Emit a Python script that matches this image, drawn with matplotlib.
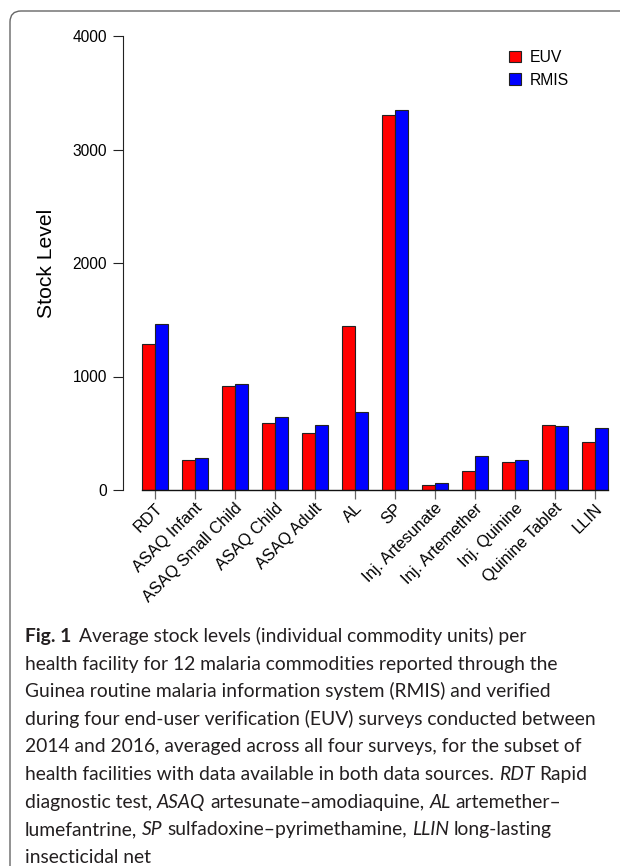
import matplotlib
matplotlib.use("Agg")
import matplotlib.pyplot as plt
from matplotlib.patches import Patch, FancyBboxPatch
from matplotlib.transforms import ScaledTranslation
import numpy as np

# data
commodities = ["RDT", "ASAQ Infant", "ASAQ Small Child", "ASAQ Child", "ASAQ Adult",
               "AL", "SP", "Inj. Artesunate", "Inj. Artemether", "Inj. Quinine",
               "Quinine Tablet", "LLIN"]
euv = [1286, 261, 919, 593, 499, 1444, 3302, 47, 164, 247, 572, 420]
rmis = [1462, 285, 930, 640, 572, 687, 3346, 62, 296, 264, 561, 546]
yticks = [0, 1000, 2000, 3000, 4000]

W, H = 620, 866
CHART_FONT = "Liberation Sans"
CAP_FONT = "Lato"
CAP_COLOR = "#231f20"

fig = plt.figure(figsize=(W / 100, H / 100), dpi=100)
fig.patch.set_facecolor("white")

# axes placed in pixel terms: y axis at x=123, 0 at y=490, 4000 at y=36
unit = 40 / 3.0  # px per bar width
x_left, x_right = -0.4, 37.4
ax_l = 123
ax_w = (x_right - x_left) * unit
ax = fig.add_axes([ax_l / W, (H - 490) / H, ax_w / W, (490 - 36) / H])

n = len(commodities)
pos = np.arange(n) * 3
ax.bar(pos + 1.5, euv, width=1, color="#ff0000", edgecolor="#222222", linewidth=0.8)
ax.bar(pos + 2.5, rmis, width=1, color="#0000ff", edgecolor="#222222", linewidth=0.8)

ax.set_xlim(x_left, x_right)
ax.set_ylim(0, 4000)
for s in ["top", "right"]:
    ax.spines[s].set_visible(False)
ax.spines["left"].set_bounds(0, 4000)
ax.spines["left"].set_color("#222222")
ax.spines["bottom"].set_bounds(1, 3 * n)
ax.spines["bottom"].set_color("#111111")
ax.spines["bottom"].set_linewidth(1.0)

ax.set_yticks(yticks)
ax.set_yticklabels([str(v) for v in yticks], fontfamily=CHART_FONT, fontsize=11.2)
ax.tick_params(axis="y", length=7.2, width=0.8, color="#222222", pad=4.3)
ax.set_xticks(pos + 2)
ax.set_xticklabels([])
ax.tick_params(axis="x", length=6.5, width=0.9, color="#666666")

ax.set_ylabel("Stock Level", fontfamily=CHART_FONT, fontsize=15.2)
ax.yaxis.set_label_coords((56 - ax_l) / ax_w, 0.5)

off = ScaledTranslation(5 / 100, -16 / 100, fig.dpi_scale_trans)
for p, name in zip(pos + 2, commodities):
    ax.text(p, 0, name, transform=ax.get_xaxis_transform() + off, rotation=45,
            rotation_mode="anchor", ha="right", va="center",
            fontfamily=CHART_FONT, fontsize=11.8)

handles = [Patch(facecolor="#ff0000", edgecolor="#222222", linewidth=0.8),
           Patch(facecolor="#0000ff", edgecolor="#222222", linewidth=0.8)]
fig.legend(handles, ["EUV", "RMIS"], loc="upper left",
           bbox_to_anchor=(509 / W, 1 - 50 / H), frameon=False,
           prop={"family": CHART_FONT, "size": 11.3},
           handlelength=0.78, handleheight=0.72, handletextpad=0.55,
           labelspacing=0.48, borderpad=0, borderaxespad=0)

# rounded frame (only top and left edges show)
frame = FancyBboxPatch((10, -20), 700, H - 11 + 20,
                       boxstyle="round,pad=0,rounding_size=11",
                       transform=None, facecolor="none",
                       edgecolor="#666666", linewidth=1.0)
fig.patches.append(frame)

# caption
lines = [
    [("Fig. 1", "bold", "normal"), ("Average stock levels (individual commodity units) per", "normal", "normal")],
    [("health facility for 12 malaria commodities reported through the", "normal", "normal")],
    [("Guinea routine malaria information system (RMIS) and verified", "normal", "normal")],
    [("during four end-user verification (EUV) surveys conducted between", "normal", "normal")],
    [("2014 and 2016, averaged across all four surveys, for the subset of", "normal", "normal")],
    [("health facilities with data available in both data sources.", "normal", "normal"),
     ("RDT", "normal", "italic"), ("Rapid", "normal", "normal")],
    [("diagnostic test,", "normal", "normal"), ("ASAQ", "normal", "italic"),
     ("artesunate\u2013amodiaquine,", "normal", "normal"), ("AL", "normal", "italic"),
     ("artemether\u2013", "normal", "normal")],
    [("lumefantrine,", "normal", "normal"), ("SP", "normal", "italic"),
     ("sulfadoxine\u2013pyrimethamine,", "normal", "normal"), ("LLIN", "normal", "italic"),
     ("long-lasting", "normal", "normal")],
    [("insecticidal net", "normal", "normal")],
]

renderer = fig.canvas.get_renderer()


def text_width(s, size, weight="normal", style="normal"):
    t = fig.text(0, 0, s, fontfamily=CAP_FONT, fontsize=size, fontweight=weight, fontstyle=style)
    w = t.get_window_extent(renderer=renderer).width
    t.remove()
    return w


# fit the widest line to the reference width
ref_w = text_width(lines[3][0][0], 10)
cap_size = 10 * 572 / ref_w
space_w = text_width("x x", cap_size) - text_width("xx", cap_size)

x0 = 25
base0 = 642
step = 27.6
for i, pieces in enumerate(lines):
    y = H - (base0 + i * step)
    x = x0
    for j, (s, weight, style) in enumerate(pieces):
        t = fig.text(x / W, y / H, s, fontfamily=CAP_FONT, fontsize=cap_size,
                     fontweight=weight, fontstyle=style, color=CAP_COLOR,
                     va="baseline", ha="left")
        w = t.get_window_extent(renderer=renderer).width
        gap = space_w * (1.6 if weight == "bold" else 1.0)
        x += w + gap

fig.savefig("out.png", dpi=100, facecolor="white")
